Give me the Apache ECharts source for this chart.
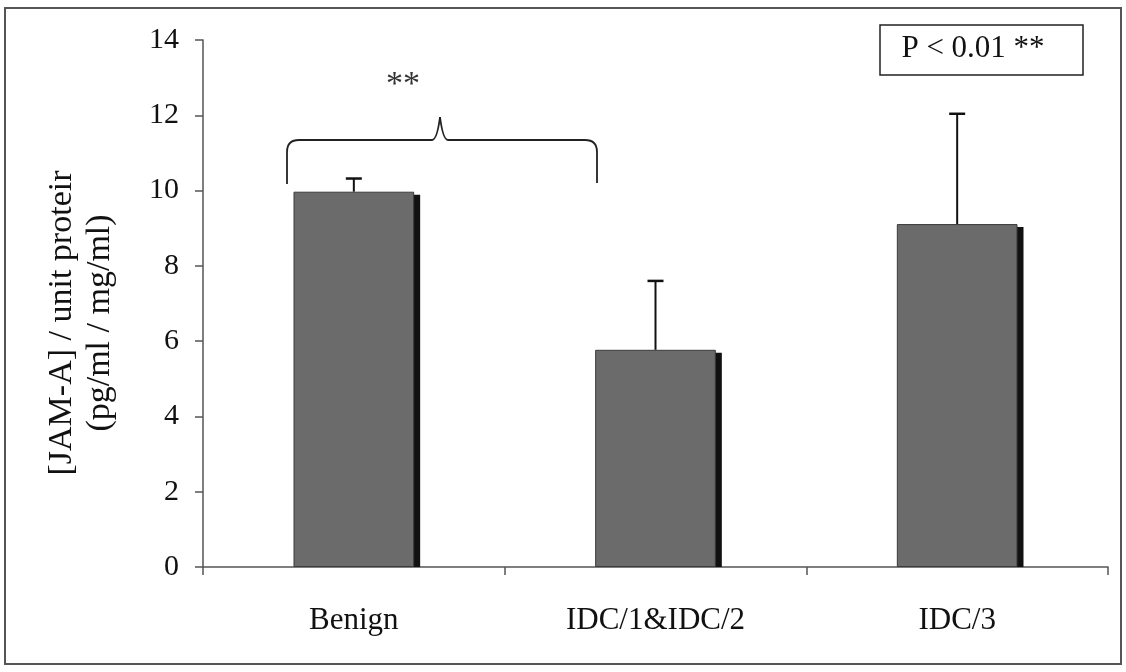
<!DOCTYPE html>
<html><head><meta charset="utf-8">
<script src="https://cdn.jsdelivr.net/npm/echarts@6/dist/echarts.min.js"></script>
<style>html,body{margin:0;padding:0;background:#fff}#c{width:1126px;height:672px}</style>
</head><body><div id="c"></div>
<script>
var categories = ['Benign', 'IDC/1&IDC/2', 'IDC/3'];
var means = [9.97, 5.77, 9.11];
var errors = [0.35, 1.83, 2.93];
var yTicks = [0, 2, 4, 6, 8, 10, 12, 14];

var FONT = "'Liberation Serif', 'Times New Roman', serif";
var chart = echarts.init(document.getElementById('c'), null, {renderer: 'canvas'});
var barPct = 0.40;

var bst = {fill: 'none', stroke: '#222', lineWidth: 1.8};
function seg(x1, y1, x2, y2) { return {type: 'line', shape: {x1: x1, y1: y1, x2: x2, y2: y2}, style: bst, silent: true}; }
function qc(x1, y1, cx, cy, x2, y2) { return {type: 'bezierCurve', shape: {x1: x1, y1: y1, cpx1: cx, cpy1: cy, x2: x2, y2: y2}, style: bst, silent: true}; }

chart.setOption({
  backgroundColor: '#ffffff',
  animation: false,
  textStyle: {fontFamily: FONT},
  grid: {left: 203, right: 18, top: 40, bottom: 105},
  xAxis: {
    type: 'category', data: categories,
    axisLine: {lineStyle: {color: '#555', width: 1.5}},
    axisTick: {show: true, length: 8, alignWithLabel: false, lineStyle: {color: '#555', width: 1.5}},
    axisLabel: {color: '#111', fontFamily: FONT, fontSize: 31, margin: 38}
  },
  yAxis: {
    type: 'value', min: 0, max: 14, interval: 2,
    axisLine: {show: true, lineStyle: {color: '#555', width: 1.5}},
    axisTick: {show: true, length: 8, lineStyle: {color: '#555', width: 1.5}},
    splitLine: {show: false},
    axisLabel: {color: '#111', fontFamily: FONT, fontSize: 30, margin: 24,
      formatter: function (v) { return yTicks.indexOf(v) >= 0 ? String(v) : ''; }}
  },
  series: [
    {
      type: 'custom', z: 1,
      data: means.map(function (m, i) { return [i, m]; }),
      renderItem: function (params, api) {
        var top = api.coord([api.value(0), api.value(1)]);
        var base = api.coord([api.value(0), 0]);
        var bw = api.size([1, 0])[0] * barPct;
        var right = top[0] + bw / 2;
        return {type: 'rect', shape: {x: right - 1, y: top[1] + 3, width: 7, height: base[1] - top[1] - 3},
          style: {fill: '#111'}};
      }
    },
    {
      type: 'bar', data: means, barWidth: '40%', z: 2,
      itemStyle: {color: '#6b6b6b', borderColor: '#3a3a3a', borderWidth: 1}
    },
    {
      type: 'custom', z: 3,
      data: means.map(function (m, i) { return [i, m, errors[i]]; }),
      renderItem: function (params, api) {
        var p0 = api.coord([api.value(0), api.value(1)]);
        var p1 = api.coord([api.value(0), api.value(1) + api.value(2)]);
        var x = p0[0];
        return {type: 'group', children: [
          {type: 'line', shape: {x1: x, y1: p0[1], x2: x, y2: p1[1]}, style: {stroke: '#111', lineWidth: 2}},
          {type: 'line', shape: {x1: x - 8, y1: p1[1], x2: x + 8, y2: p1[1]}, style: {stroke: '#111', lineWidth: 2.5}}
        ]};
      }
    }
  ],
  graphic: [
    {type: 'rect', shape: {x: 5, y: 8, width: 1116, height: 656}, style: {fill: 'none', stroke: '#555', lineWidth: 2}, silent: true, z: 0},
    {type: 'text', x: 81, y: 323, rotation: Math.PI / 2,
      style: {text: '[JAM-A] / unit proteir\n(pg/ml / mg/ml)', font: '34px ' + FONT, fill: '#111',
        align: 'center', verticalAlign: 'middle', lineHeight: 38}},
    {type: 'rect', shape: {x: 880, y: 25, width: 203, height: 50}, style: {fill: '#fff', stroke: '#222', lineWidth: 1.5}},
    {type: 'text', x: 973, y: 49, style: {text: 'P < 0.01 **', font: '31px ' + FONT, fill: '#111', align: 'center', verticalAlign: 'middle'}},
    {type: 'text', x: 403, y: 85, style: {text: '**', font: '34px ' + FONT, fill: '#333', align: 'center', verticalAlign: 'middle'}},
    {type: 'group', children: [
      seg(287, 184, 287, 152), qc(287, 152, 287, 140, 299, 140), seg(299, 140, 432, 140),
      qc(432, 140, 437, 140, 440, 117), qc(440, 117, 443, 140, 448, 140),
      seg(448, 140, 585, 140), qc(585, 140, 597, 140, 597, 152), seg(597, 152, 597, 183)
    ]}
  ]
});
</script></body></html>
